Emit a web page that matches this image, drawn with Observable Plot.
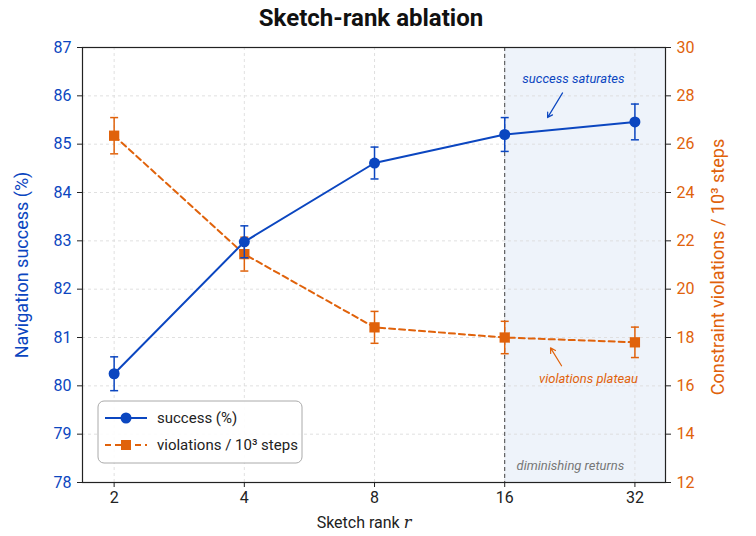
<!DOCTYPE html>
<html>
<head>
<meta charset="utf-8">
<script src="https://cdn.jsdelivr.net/npm/d3@7"></script>
<script src="https://cdn.jsdelivr.net/npm/@observablehq/plot@0.6"></script>
<style>
  body { margin: 0; background: #fff; font-family: Roboto, "Noto Sans", sans-serif; }
  #title { height: 36px; width: 742px; padding-right: 14px; display: flex; align-items: center; justify-content: center;
           font-weight: bold; font-size: 24px; color: #111; }
</style>
</head>
<body>
<div id="title">Sketch-rank ablation</div>
<div id="chart"></div>
<script>
// ---- data ----
const ranks = [2, 4, 8, 16, 32];
const success = [80.25, 82.98, 84.61, 85.2, 85.46];
const successErr = [0.35, 0.33, 0.33, 0.35, 0.37];
const violations = [26.35, 21.45, 18.42, 18.0, 17.8];
const violationsErr = [0.75, 0.7, 0.66, 0.67, 0.63];
const leftTicks = [78, 79, 80, 81, 82, 83, 84, 85, 86, 87];
const rightTicks = [12, 14, 16, 18, 20, 22, 24, 26, 28, 30];
const xDomain = [1.69, 37.66];
const plateauStart = 16;
// annotations (data units; y in left units unless noted)
const noteSuccess = {text: "success saturates", x: 23.07, y: 86.35, ax1: 21.77, ay1: 86.06, ax2: 20.1, ay2: 85.55};
const notePlateau = {text: "violations plateau", x: 25.0, y: 16.29, ax1: 21.65, ay1: 16.83, ax2: 20.42, ay2: 17.57}; // right units
const noteReturns = {text: "diminishing returns", x: 22.7, y: 78.35};

const BLUE = "#0b46c0";
const ORANGE = "#e0620b";
const FONT = "Roboto, 'Noto Sans', sans-serif";

// right-axis values mapped into left-axis units
const toLeft = v => 78 + (v - 12) * (87 - 78) / (30 - 12);
const toRight = d => 12 + (d - 78) * (30 - 12) / (87 - 78);

const sData = ranks.map((r, i) => ({r, y: success[i], lo: success[i] - successErr[i], hi: success[i] + successErr[i]}));
const vData = ranks.map((r, i) => ({r, y: toLeft(violations[i]), lo: toLeft(violations[i] - violationsErr[i]), hi: toLeft(violations[i] + violationsErr[i])}));

const capSymbol = {draw(ctx) { ctx.moveTo(-4, 0); ctx.lineTo(4, 0); }};
const GRID = {stroke: "#dddddd", strokeOpacity: 1, strokeDasharray: "3,3", strokeWidth: 0.9};

const plot = Plot.plot({
  width: 756,
  height: 500,
  marginTop: 11,
  marginBottom: 54,
  marginLeft: 82,
  marginRight: 91,
  style: {fontFamily: FONT, background: "transparent"},
  x: {type: "log", base: 2, domain: xDomain},
  y: {domain: [78, 87]},
  marks: [
    Plot.rect([{x1: plateauStart, x2: xDomain[1]}], {x1: "x1", x2: "x2", y1: 78, y2: 87, fill: "#eef3fa"}),
    Plot.gridY(leftTicks, GRID),
    Plot.gridX(ranks, GRID),
    Plot.ruleX([plateauStart], {stroke: "#444", strokeWidth: 1, strokeDasharray: "4,3"}),
    // violations
    Plot.line(vData, {x: "r", y: "y", stroke: ORANGE, strokeWidth: 2, strokeDasharray: "6,4"}),
    Plot.ruleX(vData, {x: "r", y1: "lo", y2: "hi", stroke: ORANGE, strokeWidth: 1.5}),
    Plot.dot(vData, {x: "r", y: "lo", symbol: capSymbol, stroke: ORANGE, strokeWidth: 1.5, r: 4}),
    Plot.dot(vData, {x: "r", y: "hi", symbol: capSymbol, stroke: ORANGE, strokeWidth: 1.5, r: 4}),
    Plot.dot(vData, {x: "r", y: "y", symbol: "square", fill: ORANGE, r: 5.8}),
    // success
    Plot.line(sData, {x: "r", y: "y", stroke: BLUE, strokeWidth: 2}),
    Plot.ruleX(sData, {x: "r", y1: "lo", y2: "hi", stroke: BLUE, strokeWidth: 1.5}),
    Plot.dot(sData, {x: "r", y: "lo", symbol: capSymbol, stroke: BLUE, strokeWidth: 1.5, r: 4}),
    Plot.dot(sData, {x: "r", y: "hi", symbol: capSymbol, stroke: BLUE, strokeWidth: 1.5, r: 4}),
    Plot.dot(sData, {x: "r", y: "y", fill: BLUE, r: 5.5}),
    // annotations
    Plot.text([noteSuccess], {x: "x", y: "y", text: "text", fill: BLUE, fontStyle: "italic", fontSize: 13}),
    Plot.arrow([noteSuccess], {x1: "ax1", y1: "ay1", x2: "ax2", y2: "ay2", stroke: BLUE, strokeWidth: 1.2, headLength: 7}),
    Plot.text([notePlateau], {x: "x", y: d => toLeft(d.y), text: "text", fill: ORANGE, fontStyle: "italic", fontSize: 13}),
    Plot.arrow([notePlateau], {x1: "ax1", y1: d => toLeft(d.ay1), x2: "ax2", y2: d => toLeft(d.ay2), stroke: ORANGE, strokeWidth: 1.2, headLength: 7}),
    Plot.text([noteReturns], {x: "x", y: "y", text: "text", fill: "#777", fontStyle: "italic", fontSize: 13}),
    Plot.frame({stroke: "#222", strokeWidth: 1.2}),
    // axes
    Plot.axisX({ticks: ranks, tickFormat: d => String(d), tickSize: 5, tickPadding: 4, fontSize: 16, stroke: "#222", fill: "#222", label: null}),
    Plot.axisY({ticks: leftTicks, tickSize: 5, tickPadding: 6, fontSize: 16, stroke: "#222", fill: BLUE, label: null}),
    Plot.axisY({anchor: "right", ticks: rightTicks.map(toLeft), tickFormat: d => String(Math.round(toRight(d))),
                tickSize: 5, tickPadding: 6, fontSize: 16, stroke: "#222", fill: ORANGE, label: null})
  ]
});

document.getElementById("chart").appendChild(plot);

const svg = d3.select(plot);

// axis labels
svg.append("text").attr("transform", "translate(22,229) rotate(-90)").attr("text-anchor", "middle")
  .attr("dy", "0.35em").attr("font-size", 18).attr("fill", BLUE).attr("font-family", FONT)
  .text("Navigation success (%)");
svg.append("text").attr("transform", "translate(718,231) rotate(-90)").attr("text-anchor", "middle")
  .attr("dy", "0.35em").attr("font-size", 18).attr("fill", ORANGE).attr("font-family", FONT)
  .text("Constraint violations / 10³ steps");

// x axis label with italic r
const xl = svg.append("text").attr("x", 364).attr("y", 492).attr("text-anchor", "middle")
  .attr("font-size", 16).attr("fill", "#222").attr("font-family", FONT);
xl.append("tspan").text("Sketch rank ");
xl.append("tspan").attr("font-family", "'DejaVu Serif', 'Liberation Serif', serif").attr("font-style", "italic").text("r");

// legend
const lg = svg.append("g").attr("font-family", FONT).attr("text-anchor", "start");
lg.append("rect").attr("x", 98).attr("y", 365).attr("width", 204).attr("height", 62).attr("rx", 6)
  .attr("fill", "white").attr("fill-opacity", 0.9).attr("stroke", "#aaa").attr("stroke-width", 1);
const entries = [
  {label: "success (%)", color: BLUE, dash: null, shape: "circle"},
  {label: "violations / 10³ steps", color: ORANGE, dash: "6,4", shape: "square"}
];
entries.forEach((e, i) => {
  const y = 382 + i * 27;
  lg.append("line").attr("x1", 105).attr("x2", 147).attr("y1", y).attr("y2", y)
    .attr("stroke", e.color).attr("stroke-width", 2).attr("stroke-dasharray", e.dash);
  if (e.shape === "circle") lg.append("circle").attr("cx", 126).attr("cy", y).attr("r", 5.5).attr("fill", e.color);
  else lg.append("rect").attr("x", 121).attr("y", y - 5).attr("width", 10).attr("height", 10).attr("fill", e.color);
  lg.append("text").attr("x", 157).attr("y", y).attr("dy", "0.35em").attr("font-size", 15).attr("fill", "#222")
    .attr("text-anchor", "start").text(e.label);
});
</script>
</body>
</html>
